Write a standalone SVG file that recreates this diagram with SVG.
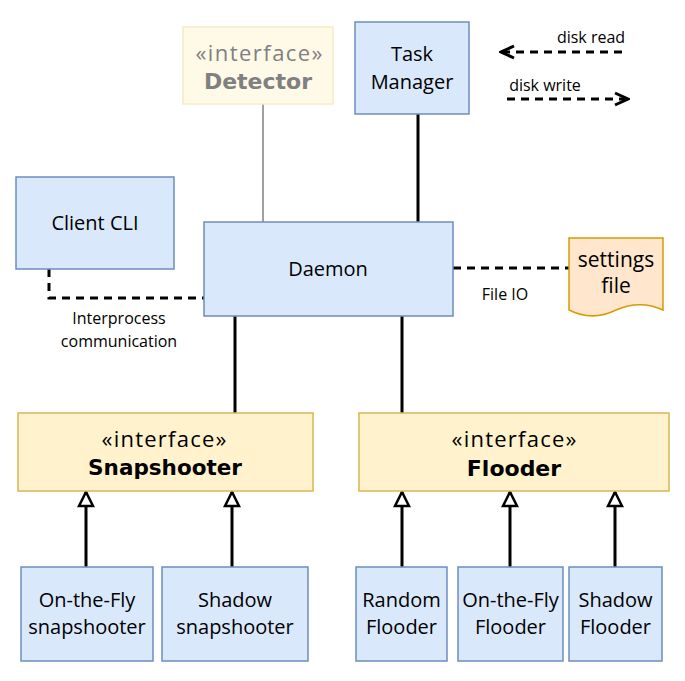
<svg xmlns="http://www.w3.org/2000/svg" width="685" height="681" viewBox="0 0 685 681">
<style>
.blue{fill:#dae8fc;stroke:#6c8ebf;stroke-width:1.5}
.yel{fill:#fff2cc;stroke:#d6b656;stroke-width:1.5}
.t{font-family:"Open Sans","Noto Sans",sans-serif;font-size:20px;fill:#000;text-anchor:middle}
.i{font-family:"Open Sans","Noto Sans",sans-serif;font-size:22px;fill:#000;text-anchor:middle}
.s{font-family:"Open Sans","Noto Sans",sans-serif;font-size:16px;fill:#000;text-anchor:middle}
.b{font-family:"DejaVu Sans",Verdana,sans-serif;font-weight:bold;font-size:22px;fill:#000;text-anchor:middle}
.solid{fill:none;stroke:#000;stroke-width:3}
.dash{fill:none;stroke:#000;stroke-width:3;stroke-dasharray:8 6}
</style>
<defs>
<marker id="tri" viewBox="0 0 18 18" refX="16" refY="9" markerWidth="18" markerHeight="18" markerUnits="userSpaceOnUse" orient="auto">
<path d="M2,2 L16,9 L2,16 Z" fill="#fff" stroke="#000" stroke-width="2.5"/>
</marker>
<marker id="open" viewBox="0 0 16 16" refX="14" refY="8" markerWidth="16" markerHeight="16" markerUnits="userSpaceOnUse" orient="auto">
<path d="M1,2 L14,8 L1,14" fill="none" stroke="#000" stroke-width="3"/>
</marker>
</defs>

<g id="connectors">
<line x1="263" y1="104" x2="263" y2="222" stroke="#808080" stroke-width="1.5"/>
<line class="solid" x1="418" y1="114" x2="418" y2="222"/>
<line class="solid" x1="235" y1="316" x2="235" y2="413"/>
<line class="solid" x1="402" y1="316" x2="402" y2="413"/>
<path class="dash" d="M49,269 V298 H204"/>
<line class="dash" x1="453" y1="268" x2="569" y2="268"/>
<line class="solid" x1="86" y1="567" x2="86" y2="492" marker-end="url(#tri)"/>
<line class="solid" x1="232" y1="567" x2="232" y2="492" marker-end="url(#tri)"/>
<line class="solid" x1="402" y1="567" x2="402" y2="492" marker-end="url(#tri)"/>
<line class="solid" x1="510" y1="567" x2="510" y2="492" marker-end="url(#tri)"/>
<line class="solid" x1="615" y1="567" x2="615" y2="492" marker-end="url(#tri)"/>
<text class="s" x="119" y="324">Interprocess</text>
<text class="s" x="119" y="347">communication</text>
<text class="s" x="505" y="300">File IO</text>
</g>

<g id="legend">
<line class="dash" x1="622" y1="52" x2="501" y2="52" marker-end="url(#open)"/>
<text class="s" x="591" y="43">disk read</text>
<line class="dash" x1="507" y1="99" x2="628" y2="99" marker-end="url(#open)"/>
<text class="s" x="545" y="91">disk write</text>
</g>

<g id="detector">
<rect x="183" y="27" width="150" height="77" fill="#fff9e8" stroke="#f7ebc6" stroke-width="1.5"/>
<text class="i" x="259" y="61" textLength="127" lengthAdjust="spacing" style="fill:#808080">«interface»</text>
<text class="b" x="258" y="89" style="fill:#808080">Detector</text>
</g>

<g id="task-manager">
<rect class="blue" x="355" y="22" width="114" height="92"/>
<text class="t" x="412" y="61">Task</text>
<text class="t" x="412" y="89">Manager</text>
</g>

<g id="client-cli">
<rect class="blue" x="16" y="177" width="158" height="92"/>
<text class="t" x="95" y="230">Client CLI</text>
</g>

<g id="daemon">
<rect class="blue" x="204" y="222" width="249" height="94"/>
<text class="t" x="328" y="276">Daemon</text>
</g>

<g id="settings-file">
<path d="M569,238 H663 V310 C648,303 632,303 616,310 C600,318 585,318 569,310 Z" fill="#ffe6cc" stroke="#d79b00" stroke-width="1.5"/>
<text class="t" x="616" y="267" style="font-size:21px">settings</text>
<text class="t" x="616" y="293" style="font-size:21px">file</text>
</g>

<g id="snapshooter">
<rect class="yel" x="18" y="413" width="295" height="78"/>
<text class="i" x="164" y="447" textLength="125" lengthAdjust="spacing">«interface»</text>
<text class="b" x="165" y="475" style="font-size:21.5px">Snapshooter</text>
</g>

<g id="flooder">
<rect class="yel" x="359" y="413" width="310" height="78"/>
<text class="i" x="514" y="447" textLength="125" lengthAdjust="spacing">«interface»</text>
<text class="b" x="514" y="476">Flooder</text>
</g>

<g id="otf-snapshooter">
<rect class="blue" x="21" y="567" width="132" height="94"/>
<text class="t" x="87" y="607">On-the-Fly</text>
<text class="t" x="87" y="634">snapshooter</text>
</g>

<g id="shadow-snapshooter">
<rect class="blue" x="162" y="567" width="146" height="94"/>
<text class="t" x="235" y="607">Shadow</text>
<text class="t" x="235" y="634">snapshooter</text>
</g>

<g id="random-flooder">
<rect class="blue" x="356" y="567" width="91" height="94"/>
<text class="t" x="401.5" y="607">Random</text>
<text class="t" x="401.5" y="634">Flooder</text>
</g>

<g id="otf-flooder">
<rect class="blue" x="458" y="567" width="105" height="94"/>
<text class="t" x="510.5" y="607">On-the-Fly</text>
<text class="t" x="510.5" y="634">Flooder</text>
</g>

<g id="shadow-flooder">
<rect class="blue" x="569" y="567" width="93" height="94"/>
<text class="t" x="615.5" y="607">Shadow</text>
<text class="t" x="615.5" y="634">Flooder</text>
</g>
</svg>
